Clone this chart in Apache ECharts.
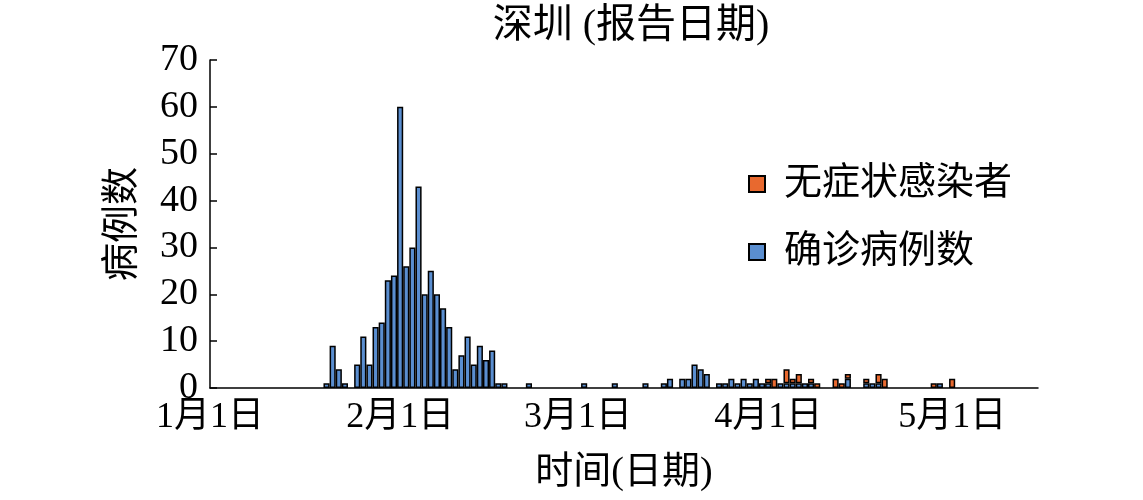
<!DOCTYPE html>
<html>
<head>
<meta charset="utf-8">
<script src="https://cdn.jsdelivr.net/npm/echarts@6/dist/echarts.min.js"></script>
<style>
html,body{margin:0;padding:0;background:#fff;}
#chart{width:1143px;height:500px;}
</style>
</head>
<body>
<div id="chart"></div>
<script>
// ---- data ----
const dates = ['2020-01-20','2020-01-21','2020-01-22','2020-01-23','2020-01-25','2020-01-26','2020-01-27','2020-01-28','2020-01-29','2020-01-30','2020-01-31',
'2020-02-01','2020-02-02','2020-02-03','2020-02-04','2020-02-05','2020-02-06','2020-02-07','2020-02-08','2020-02-09','2020-02-10','2020-02-11','2020-02-12','2020-02-13','2020-02-14','2020-02-15','2020-02-16','2020-02-17','2020-02-18',
'2020-02-22','2020-03-02','2020-03-07','2020-03-12',
'2020-03-15','2020-03-16','2020-03-18','2020-03-19','2020-03-20','2020-03-21','2020-03-22',
'2020-03-24','2020-03-25','2020-03-26','2020-03-27','2020-03-28','2020-03-29','2020-03-30','2020-03-31',
'2020-04-01','2020-04-02','2020-04-03','2020-04-04','2020-04-05','2020-04-06','2020-04-07','2020-04-08','2020-04-09',
'2020-04-12','2020-04-13','2020-04-14','2020-04-17','2020-04-18','2020-04-19','2020-04-20','2020-04-28','2020-04-29','2020-05-01'];
const confirmed = [1,9,4,1,5,11,5,13,14,23,24,
60,26,30,43,20,25,20,17,13,4,7,11,5,9,6,8,1,1,
1,1,1,1,
1,2,2,2,5,4,3,
1,1,2,1,2,1,2,1,
1,0,1,1,1,1,1,1,0,
0,0,2,1,1,1,0,0,1,0];
const asymptomatic = [0,0,0,0,0,0,0,0,0,0,0,
0,0,0,0,0,0,0,0,0,0,0,0,0,0,0,0,0,0,
0,0,0,0,
0,0,0,0,0,0,0,
0,0,0,0,0,0,0,0,
1,2,0,3,1,2,0,1,1,
2,1,1,1,0,2,2,1,0,2];
const axisStart = '2020-01-01';
const axisEnd = '2020-05-15';
const seriesNames = ['确诊病例数','无症状感染者'];
const titleText = '深圳 (报告日期)';
const xName = '时间(日期)';
const yName = '病例数';

// ---- build daily categories ----
function toUTC(s){const p=s.split('-').map(Number);return Date.UTC(p[0],p[1]-1,p[2]);}
function fmtKey(t){const d=new Date(t);return d.getUTCFullYear()+'-'+String(d.getUTCMonth()+1).padStart(2,'0')+'-'+String(d.getUTCDate()).padStart(2,'0');}
const days = [];
for(let t=toUTC(axisStart); t<=toUTC(axisEnd); t+=86400000) days.push(fmtKey(t));
const blueData = days.map(()=>null), orangeData = days.map(()=>null);
dates.forEach((d,i)=>{const k=days.indexOf(d); if(k<0) return;
  if(confirmed[i]) blueData[k]=confirmed[i];
  if(asymptomatic[i]) orangeData[k]=asymptomatic[i];});
function dayLabel(v){const p=v.split('-').map(Number);return p[1]+'月'+p[2]+'日';}

const serif = "'Liberation Serif','Noto Sans CJK SC',serif";
const chart = echarts.init(document.getElementById('chart'));
chart.setOption({
  animation:false,
  backgroundColor:'#fff',
  title:{text:titleText,left:626,top:2,textAlign:'center',
    textStyle:{fontFamily:serif,fontSize:40,fontWeight:'normal',color:'#000'}},
  legend:{orient:'vertical',left:748,top:165,padding:0,itemWidth:16,itemHeight:16,itemGap:30,
    data:[seriesNames[1],seriesNames[0]],icon:'rect',
    textStyle:{fontFamily:serif,fontSize:38,color:'#000',padding:[0,0,0,14]}},
  grid:{left:210,right:105,top:60,bottom:112,containLabel:false,outerBoundsMode:'none'},
  xAxis:{type:'category',data:days,boundaryGap:false,
    name:xName,nameLocation:'middle',nameGap:66,
    nameTextStyle:{fontFamily:serif,fontSize:38,color:'#000'},
    axisLine:{show:true,lineStyle:{color:'#000',width:1.5}},
    axisTick:{show:false},splitLine:{show:false},
    axisLabel:{interval:(i,v)=>v.slice(8)==='01',formatter:dayLabel,
      fontFamily:serif,fontSize:36,color:'#000',margin:12}},
  yAxis:{type:'value',min:0,max:70,interval:10,
    name:yName,nameLocation:'middle',nameGap:68,nameRotate:90,
    nameTextStyle:{fontFamily:serif,fontSize:38,color:'#000'},
    axisLine:{show:true,lineStyle:{color:'#000',width:1.5}},
    axisTick:{show:true,inside:true,length:7,lineStyle:{color:'#000',width:1.5}},
    splitLine:{show:false},
    axisLabel:{fontFamily:serif,fontSize:38,color:'#000',margin:12}},
  series:[
    {name:seriesNames[0],type:'bar',stack:'all',data:blueData,barWidth:'100%',
      itemStyle:{color:'#5a8ed0',borderColor:'#000',borderWidth:1.5}},
    {name:seriesNames[1],type:'bar',stack:'all',data:orangeData,barWidth:'100%',
      itemStyle:{color:'#e8692f',borderColor:'#000',borderWidth:1.5}}
  ]
});
</script>
</body>
</html>
